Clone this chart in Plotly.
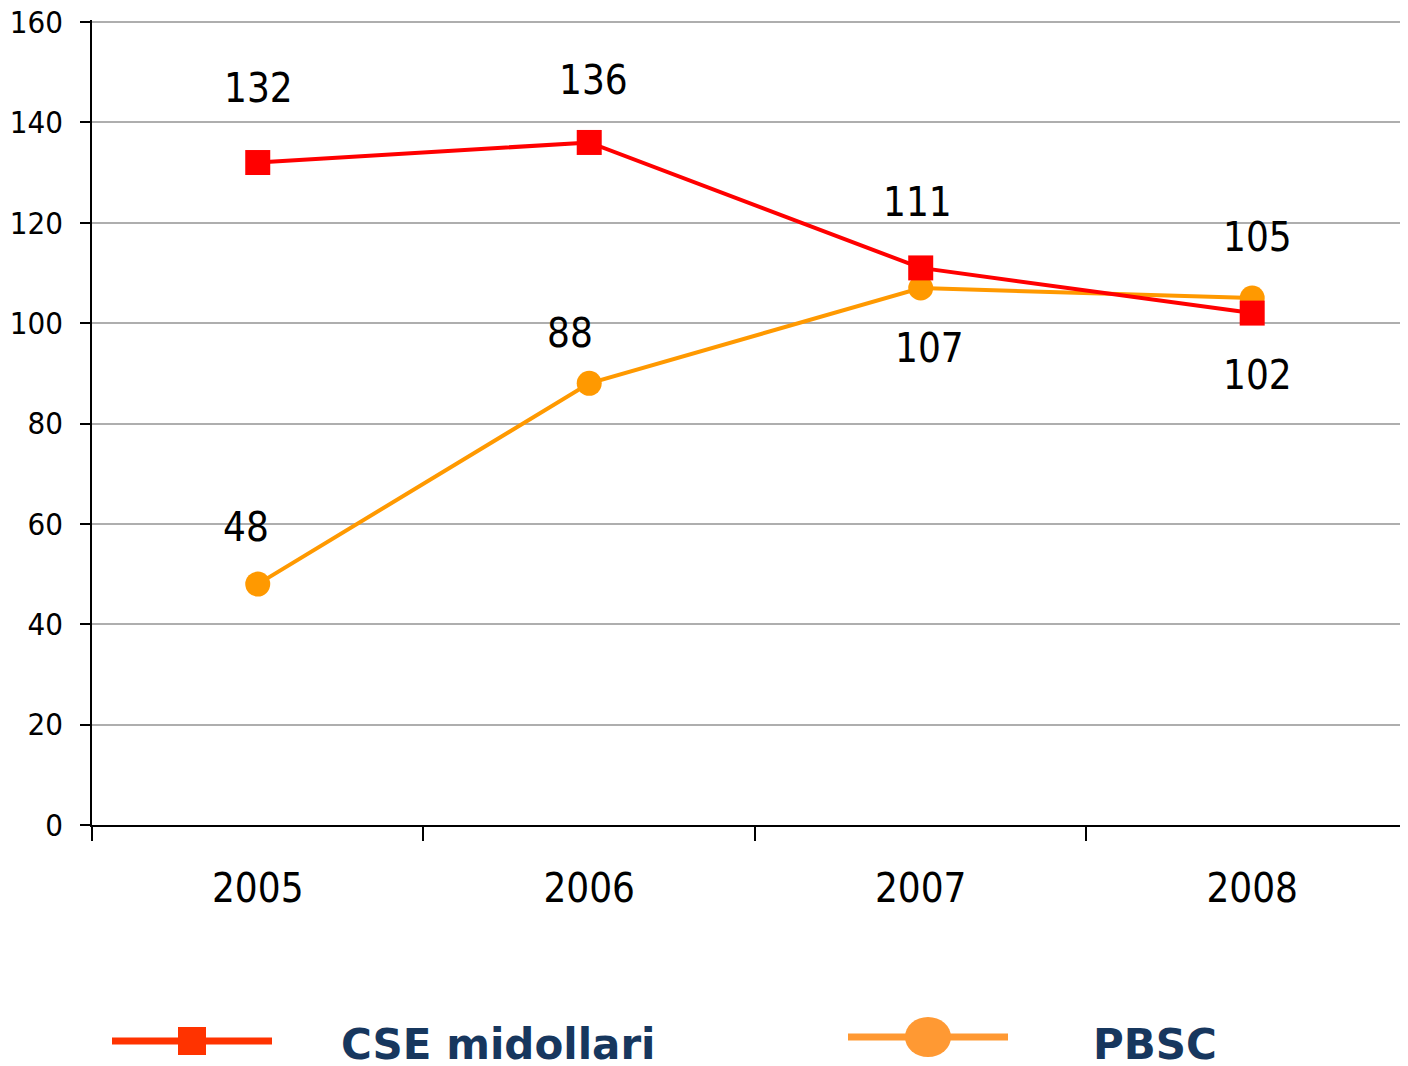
import plotly.graph_objects as go

years = ["2005", "2006", "2007", "2008"]
cse_midollari = [132, 136, 111, 102]
pbsc = [48, 88, 107, 105]
y_ticks = [0, 20, 40, 60, 80, 100, 120, 140, 160]

# label offsets (px) for the value labels, per point
cse_label_shift = [(1, 75), (4, 62), (-3, 66), (5, -62)]
pbsc_label_shift = [(-12, 57), (-19, 50), (9, -60), (5, 61)]

# the page body adds an 8px margin, so the figure is sized to fit the window
W, H = 1400, 1058
L, R, T, B = 84, 0, 12, 241
FONT = "DejaVu Sans Condensed, DejaVu Sans, sans-serif"


def px(x, y):
    # screen pixel -> paper coordinates (for the legend drawing)
    x, y = x - 8, y - 8
    return (x - L) / (W - L - R), (H - B - y) / (H - T - B)


fig = go.Figure()

fig.add_trace(go.Scatter(x=years, y=pbsc, mode="lines+markers", name="PBSC",
                         line=dict(color="#FF9900", width=4),
                         marker=dict(symbol="circle", size=25, color="#FF9900"),
                         cliponaxis=False, showlegend=False))
fig.add_trace(go.Scatter(x=years, y=cse_midollari, mode="lines+markers", name="CSE midollari",
                         line=dict(color="#FF0000", width=4),
                         marker=dict(symbol="square", size=25, color="#FF0000"),
                         cliponaxis=False, showlegend=False))

# value labels (category axis: annotations take the category index)
for series, shifts in ((cse_midollari, cse_label_shift), (pbsc, pbsc_label_shift)):
    for i, (v, (dx, dy)) in enumerate(zip(series, shifts)):
        fig.add_annotation(x=i, y=v, xref="x", yref="y", text=str(v), showarrow=False,
                           xshift=dx, yshift=dy,
                           font=dict(family=FONT, size=40, color="black"))

# legend, drawn by hand to match the wide line samples
legend_items = [
    ("CSE midollari", "#FF3300", "square", 112, 272, 1041, 339),
    ("PBSC", "#FF9933", "circle", 848, 1008, 1037, 1091),
]
for label, col, sym, x0, x1, yl, xt in legend_items:
    a0, b0 = px(x0, yl)
    a1, _ = px(x1, yl)
    fig.add_shape(type="line", xref="paper", yref="paper", x0=a0, x1=a1, y0=b0, y1=b0,
                  line=dict(color=col, width=7))
    cx = (x0 + x1) / 2
    if sym == "square":
        p0 = px(cx - 14, yl - 14)
        p1 = px(cx + 14, yl + 14)
        fig.add_shape(type="rect", xref="paper", yref="paper",
                      x0=p0[0], x1=p1[0], y0=p0[1], y1=p1[1],
                      fillcolor=col, line=dict(width=0))
    else:
        p0 = px(cx - 23, yl - 20)
        p1 = px(cx + 23, yl + 20)
        fig.add_shape(type="circle", xref="paper", yref="paper",
                      x0=p0[0], x1=p1[0], y0=p0[1], y1=p1[1],
                      fillcolor=col, line=dict(width=0))
    tx, ty = px(xt, 1044)
    fig.add_annotation(xref="paper", yref="paper", x=tx, y=ty, text=f"<b>{label}</b>",
                       showarrow=False, xanchor="left", yanchor="middle",
                       font=dict(family="DejaVu Sans, sans-serif", size=42, color="#17375E"))

fig.update_layout(
    width=W, height=H,
    margin=dict(l=L, r=R, t=T, b=B),
    paper_bgcolor="white", plot_bgcolor="white",
    font=dict(family=FONT, color="black"),
)
fig.update_xaxes(type="category", range=[-0.5, 3.47], showgrid=False, automargin=False,
                 showline=True, linecolor="black", linewidth=1.5,
                 ticks="outside", tickson="boundaries", ticklen=14, tickcolor="black",
                 tickwidth=1.5, ticklabelstandoff=27,
                 tickfont=dict(family=FONT, size=40, color="black"))
# range tops out a hair above 160 so the top gridline is kept
fig.update_yaxes(range=[0, 160.4], tickvals=y_ticks, showgrid=True, automargin=False,
                 gridcolor="#AEAEAE", gridwidth=1.5, zeroline=False,
                 showline=True, linecolor="black", linewidth=1.5,
                 ticks="outside", ticklen=10, tickcolor="black", tickwidth=1.5,
                 ticklabelstandoff=11, ticklabeloverflow="allow",
                 tickfont=dict(family=FONT, size=31, color="black"))

fig.write_html("out.html")
